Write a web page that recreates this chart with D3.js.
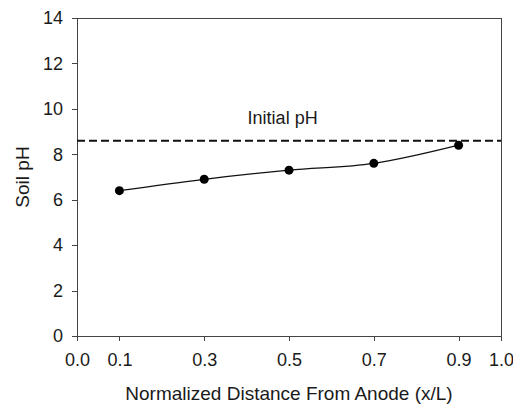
<!DOCTYPE html>
<html lang="en">
<head>
	<meta charset="UTF-8">
	<title>Soil pH vs normalized distance</title>
	<script src="https://unpkg.com/d3@7/dist/d3.min.js"></script>
	<style>
		body{ margin:0; background:#fff; }
		text{ font-family: "Liberation Sans", Arial, sans-serif; fill:#1a1a1a; }
		.tick text{ font-size:18px; }
		.domain, .tick line{ stroke:#444; shape-rendering:crispEdges; }
		.frame{ fill:none; stroke:#444; shape-rendering:crispEdges; }
	</style>
</head>
<body>
	<div id="main"></div>
	<script>
		var distance = [0.1, 0.3, 0.5, 0.7, 0.9];
		var soilPH = [6.4, 6.9, 7.3, 7.6, 8.4];
		var initialPH = 8.6;
		var xTicks = [0.0, 0.1, 0.3, 0.5, 0.7, 0.9, 1.0];
		var yTicks = [0, 2, 4, 6, 8, 10, 12, 14];

		var width = 513, height = 406,
			margin = {left:77, top:18, right:12, bottom:70};

		var svg = d3.select("#main").append("svg")
			.attr("width", width)
			.attr("height", height);

		var x = d3.scaleLinear().domain([0, 1]).range([margin.left, width - margin.right]);
		var y = d3.scaleLinear().domain([0, 14]).range([height - margin.bottom, margin.top]);

		// box round the plot
		svg.append("rect")
			.attr("class", "frame")
			.attr("x", x(0) + 0.5)
			.attr("y", y(14) + 0.5)
			.attr("width", x(1) - x(0))
			.attr("height", y(0) - y(14));

		svg.append("g")
			.attr("transform", "translate(0," + y(0) + ")")
			.call(d3.axisBottom(x).tickValues(xTicks).tickSize(5).tickSizeOuter(0).tickPadding(12)
				.tickFormat(d3.format(".1f")));

		svg.append("g")
			.attr("transform", "translate(" + x(0) + ",0)")
			.call(d3.axisLeft(y).tickValues(yTicks).tickSize(5).tickSizeOuter(0).tickPadding(9));

		// initial pH reference
		svg.append("line")
			.attr("x1", x(0)).attr("x2", x(1))
			.attr("y1", y(initialPH)).attr("y2", y(initialPH))
			.attr("stroke", "#111")
			.attr("stroke-width", 2)
			.attr("stroke-dasharray", "8,4");

		svg.append("text")
			.attr("x", x(0.485))
			.attr("y", y(initialPH) - 17)
			.attr("text-anchor", "middle")
			.style("font-size", "18px")
			.text("Initial pH");

		var pts = distance.map(function(d, i){ return [d, soilPH[i]]; });

		svg.append("path")
			.datum(pts)
			.attr("fill", "none")
			.attr("stroke", "#111")
			.attr("stroke-width", 1.3)
			.attr("d", d3.line()
				.curve(d3.curveCatmullRom.alpha(0.5))
				.x(function(d){ return x(d[0]); })
				.y(function(d){ return y(d[1]); }));

		svg.selectAll("circle.pt")
			.data(pts)
			.enter()
			.append("circle")
			.attr("class", "pt")
			.attr("cx", function(d){ return x(d[0]); })
			.attr("cy", function(d){ return y(d[1]); })
			.attr("r", 4.5)
			.attr("fill", "#000");

		svg.append("text")
			.attr("x", (x(0) + x(1)) / 2)
			.attr("y", 400)
			.attr("text-anchor", "middle")
			.style("font-size", "19px")
			.text("Normalized Distance From Anode (x/L)");

		svg.append("text")
			.attr("transform", "translate(29," + (y(7)) + ") rotate(-90)")
			.attr("text-anchor", "middle")
			.style("font-size", "19px")
			.text("Soil pH");
	</script>
</body>
</html>
